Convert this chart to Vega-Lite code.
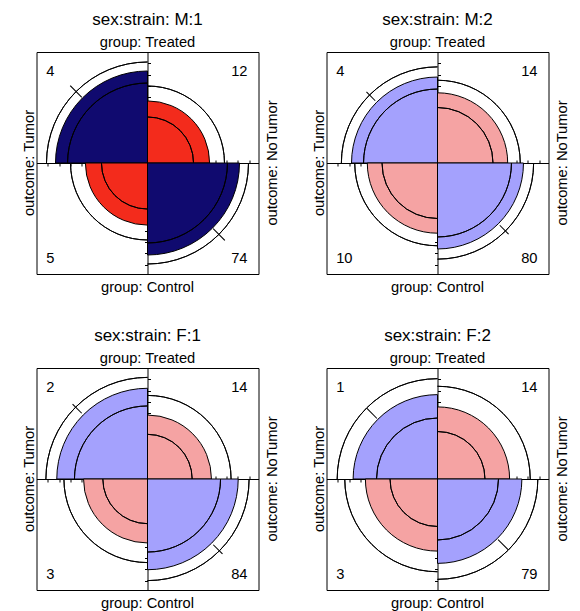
{
  "$schema": "https://vega.github.io/schema/vega-lite/v6.json",
  "background": "white",
  "padding": {"left": 20.5, "top": 10, "right": 5, "bottom": 0},
  "data": {"values": [
    {"stratum": "sex:strain: M:1", "cell": "Treated, Tumor", "group": "Treated", "outcome": "Tumor", "n": 4, "p": 0.687, "lo": 0.519, "hi": 0.828, "m1": 0.70, "m2": 0.97, "shade": "diagonal, significant"},
    {"stratum": "sex:strain: M:1", "cell": "Treated, NoTumor", "group": "Treated", "outcome": "NoTumor", "n": 12, "p": 0.313, "lo": 0.172, "hi": 0.481, "shade": "off-diagonal, significant"},
    {"stratum": "sex:strain: M:1", "cell": "Control, Tumor", "group": "Control", "outcome": "Tumor", "n": 5, "p": 0.313, "lo": 0.172, "hi": 0.481, "shade": "off-diagonal, significant"},
    {"stratum": "sex:strain: M:1", "cell": "Control, NoTumor", "group": "Control", "outcome": "NoTumor", "n": 74, "p": 0.687, "lo": 0.519, "hi": 0.828, "m1": 0.70, "m2": 0.97, "shade": "diagonal, significant"},
    {"stratum": "sex:strain: M:2", "cell": "Treated, Tumor", "group": "Treated", "outcome": "Tumor", "n": 4, "p": 0.600, "lo": 0.444, "hi": 0.750, "m1": 0.629, "m2": 0.82, "shade": "diagonal"},
    {"stratum": "sex:strain: M:2", "cell": "Treated, NoTumor", "group": "Treated", "outcome": "NoTumor", "n": 14, "p": 0.400, "lo": 0.250, "hi": 0.556, "shade": "off-diagonal"},
    {"stratum": "sex:strain: M:2", "cell": "Control, Tumor", "group": "Control", "outcome": "Tumor", "n": 10, "p": 0.400, "lo": 0.250, "hi": 0.556, "shade": "off-diagonal"},
    {"stratum": "sex:strain: M:2", "cell": "Control, NoTumor", "group": "Control", "outcome": "NoTumor", "n": 80, "p": 0.600, "lo": 0.444, "hi": 0.750, "m1": 0.629, "m2": 0.82, "shade": "diagonal"},
    {"stratum": "sex:strain: F:1", "cell": "Treated, Tumor", "group": "Treated", "outcome": "Tumor", "n": 2, "p": 0.668, "lo": 0.433, "hi": 0.838, "m1": 0.702, "m2": 0.912, "shade": "diagonal"},
    {"stratum": "sex:strain: F:1", "cell": "Treated, NoTumor", "group": "Treated", "outcome": "NoTumor", "n": 14, "p": 0.332, "lo": 0.162, "hi": 0.567, "shade": "off-diagonal"},
    {"stratum": "sex:strain: F:1", "cell": "Control, Tumor", "group": "Control", "outcome": "Tumor", "n": 3, "p": 0.332, "lo": 0.162, "hi": 0.567, "shade": "off-diagonal"},
    {"stratum": "sex:strain: F:1", "cell": "Control, NoTumor", "group": "Control", "outcome": "NoTumor", "n": 84, "p": 0.668, "lo": 0.433, "hi": 0.838, "m1": 0.702, "m2": 0.912, "shade": "diagonal"},
    {"stratum": "sex:strain: F:2", "cell": "Treated, Tumor", "group": "Treated", "outcome": "Tumor", "n": 1, "p": 0.578, "lo": 0.302, "hi": 0.817, "m1": 0.595, "m2": 0.808, "shade": "diagonal"},
    {"stratum": "sex:strain: F:2", "cell": "Treated, NoTumor", "group": "Treated", "outcome": "NoTumor", "n": 14, "p": 0.422, "lo": 0.183, "hi": 0.698, "shade": "off-diagonal"},
    {"stratum": "sex:strain: F:2", "cell": "Control, Tumor", "group": "Control", "outcome": "Tumor", "n": 3, "p": 0.422, "lo": 0.183, "hi": 0.698, "shade": "off-diagonal"},
    {"stratum": "sex:strain: F:2", "cell": "Control, NoTumor", "group": "Control", "outcome": "NoTumor", "n": 79, "p": 0.578, "lo": 0.302, "hi": 0.817, "m1": 0.595, "m2": 0.808, "shade": "diagonal"}
  ]},
  "columns": 2,
  "spacing": {"row": 94, "column": 68},
  "bounds": "flush",
  "concat": [
    {
      "width": 222, "height": 222,
      "transform": [{"filter": {"field": "stratum", "equal": "sex:strain: M:1"}}],
      "layer": [
        {"mark": {"type": "arc", "stroke": "black", "strokeWidth": 1},
         "encoding": {
           "theta": {"field": "cell", "type": "nominal", "scale": {"type": "band", "domain": ["Treated, NoTumor", "Control, NoTumor", "Control, Tumor", "Treated, Tumor"], "range": [0, 6.283185307179586], "paddingInner": 0, "paddingOuter": 0}},
           "radius": {"field": "p", "type": "quantitative", "stack": null, "scale": {"type": "sqrt", "domain": [0, 1], "range": [0, 111], "zero": true, "nice": false}},
           "color": {"field": "shade", "type": "nominal", "legend": null, "scale": {"domain": ["diagonal, significant", "off-diagonal, significant", "diagonal", "off-diagonal"], "range": ["#100A6F", "#F32B1C", "#A4A1FD", "#F5A3A3"]}}}},
        {"mark": {"type": "arc", "filled": false, "stroke": "black", "strokeWidth": 1},
         "encoding": {
           "theta": {"field": "cell", "type": "nominal", "scale": {"type": "band", "domain": ["Treated, NoTumor", "Control, NoTumor", "Control, Tumor", "Treated, Tumor"], "range": [0, 6.283185307179586], "paddingInner": 0, "paddingOuter": 0}},
           "radius": {"field": "lo", "type": "quantitative", "scale": {"type": "sqrt", "domain": [0, 1], "range": [0, 111], "zero": true, "nice": false}},
           "radius2": {"field": "lo"}}},
        {"mark": {"type": "arc", "filled": false, "stroke": "black", "strokeWidth": 1},
         "encoding": {
           "theta": {"field": "cell", "type": "nominal", "scale": {"type": "band", "domain": ["Treated, NoTumor", "Control, NoTumor", "Control, Tumor", "Treated, Tumor"], "range": [0, 6.283185307179586], "paddingInner": 0, "paddingOuter": 0}},
           "radius": {"field": "hi", "type": "quantitative", "scale": {"type": "sqrt", "domain": [0, 1], "range": [0, 111], "zero": true, "nice": false}},
           "radius2": {"field": "hi"}}},
        {"transform": [{"filter": "isValid(datum.m1)"}],
         "mark": {"type": "arc", "fill": "black", "strokeWidth": 0},
         "encoding": {
           "theta": {"field": "cell", "type": "nominal", "scale": {"type": "band", "domain": ["Treated, NoTumor", "Control, NoTumor", "Control, Tumor", "Treated, Tumor"], "range": [0, 6.283185307179586], "paddingInner": 0.993, "paddingOuter": 0.4965}},
           "radius": {"field": "m2", "type": "quantitative", "scale": {"type": "sqrt", "domain": [0, 1], "range": [0, 111], "zero": true, "nice": false}},
           "radius2": {"field": "m1"}}},
        {"transform": [{"filter": {"field": "cell", "equal": "Treated, Tumor"}}],
         "mark": {"type": "text", "fontSize": 17, "baseline": "alphabetic"},
         "encoding": {
           "x": {"datum": 0, "type": "quantitative", "axis": null, "scale": {"domain": [-1, 1], "nice": false, "zero": false}},
           "y": {"datum": 1.24, "type": "quantitative", "axis": null, "scale": {"domain": [-1, 1], "nice": false, "zero": false}},
           "text": {"field": "stratum"}}},
        {"transform": [{"filter": {"field": "cell", "equal": "Treated, Tumor"}}],
         "mark": {"type": "text", "text": "group: Treated", "baseline": "alphabetic"},
         "encoding": {
           "x": {"datum": 0, "type": "quantitative", "axis": {"orient": "bottom", "offset": -111, "domain": true, "title": null, "values": [-0.8982, -0.7964, -0.6946, -0.5928, -0.491, -0.3892, -0.2874, -0.1856, -0.0838]}},
           "y": {"datum": 1.049, "type": "quantitative", "axis": {"orient": "left", "offset": -111, "domain": true, "title": null, "values": [-0.1018, -0.2036, -0.3054, -0.4072, -0.509, -0.6108, -0.7126, -0.8144, -0.9162]}}}},
        {"transform": [{"filter": {"field": "cell", "equal": "Treated, Tumor"}}],
         "mark": {"type": "text", "text": "group: Control", "baseline": "alphabetic"},
         "encoding": {
           "x": {"datum": 0, "type": "quantitative", "axis": {"orient": "top", "offset": -111, "domain": false, "title": null, "values": [0.1018, 0.2036, 0.3054, 0.4072, 0.509, 0.6108, 0.7126, 0.8144, 0.9162]}},
           "y": {"datum": -1.162, "type": "quantitative", "axis": {"orient": "right", "offset": -111, "domain": false, "title": null, "values": [0.8982, 0.7964, 0.6946, 0.5928, 0.491, 0.3892, 0.2874, 0.1856, 0.0838]}}}},
        {"transform": [{"filter": {"field": "cell", "equal": "Treated, Tumor"}}],
         "mark": {"type": "text", "text": "outcome: Tumor", "angle": 270, "baseline": "alphabetic"},
         "encoding": {
           "x": {"datum": -1.025, "type": "quantitative", "axis": null},
           "y": {"datum": 0, "type": "quantitative", "axis": null}}},
        {"transform": [{"filter": {"field": "cell", "equal": "Treated, Tumor"}}],
         "mark": {"type": "text", "text": "outcome: NoTumor", "angle": 270, "baseline": "alphabetic"},
         "encoding": {
           "x": {"datum": 1.171, "type": "quantitative", "axis": null},
           "y": {"datum": 0, "type": "quantitative", "axis": null}}},
        {"transform": [{"filter": {"field": "cell", "equal": "Treated, Tumor"}}],
         "mark": {"type": "text", "align": "left", "baseline": "alphabetic"},
         "encoding": {"x": {"datum": -0.913, "type": "quantitative", "axis": null}, "y": {"datum": 0.784, "type": "quantitative", "axis": null}, "text": {"field": "n"}}},
        {"transform": [{"filter": {"field": "cell", "equal": "Treated, NoTumor"}}],
         "mark": {"type": "text", "align": "right", "baseline": "alphabetic"},
         "encoding": {"x": {"datum": 0.901, "type": "quantitative", "axis": null}, "y": {"datum": 0.784, "type": "quantitative", "axis": null}, "text": {"field": "n"}}},
        {"transform": [{"filter": {"field": "cell", "equal": "Control, Tumor"}}],
         "mark": {"type": "text", "align": "left", "baseline": "alphabetic"},
         "encoding": {"x": {"datum": -0.913, "type": "quantitative", "axis": null}, "y": {"datum": -0.901, "type": "quantitative", "axis": null}, "text": {"field": "n"}}},
        {"transform": [{"filter": {"field": "cell", "equal": "Control, NoTumor"}}],
         "mark": {"type": "text", "align": "right", "baseline": "alphabetic"},
         "encoding": {"x": {"datum": 0.901, "type": "quantitative", "axis": null}, "y": {"datum": -0.901, "type": "quantitative", "axis": null}, "text": {"field": "n"}}}
      ],
      "resolve": {"scale": {"theta": "independent"}, "axis": {"x": "independent", "y": "independent"}}
    },
    {
      "width": 222, "height": 222,
      "transform": [{"filter": {"field": "stratum", "equal": "sex:strain: M:2"}}],
      "layer": [
        {"mark": {"type": "arc", "stroke": "black", "strokeWidth": 1},
         "encoding": {
           "theta": {"field": "cell", "type": "nominal", "scale": {"type": "band", "domain": ["Treated, NoTumor", "Control, NoTumor", "Control, Tumor", "Treated, Tumor"], "range": [0, 6.283185307179586], "paddingInner": 0, "paddingOuter": 0}},
           "radius": {"field": "p", "type": "quantitative", "stack": null, "scale": {"type": "sqrt", "domain": [0, 1], "range": [0, 111], "zero": true, "nice": false}},
           "color": {"field": "shade", "type": "nominal", "legend": null, "scale": {"domain": ["diagonal, significant", "off-diagonal, significant", "diagonal", "off-diagonal"], "range": ["#100A6F", "#F32B1C", "#A4A1FD", "#F5A3A3"]}}}},
        {"mark": {"type": "arc", "filled": false, "stroke": "black", "strokeWidth": 1},
         "encoding": {
           "theta": {"field": "cell", "type": "nominal", "scale": {"type": "band", "domain": ["Treated, NoTumor", "Control, NoTumor", "Control, Tumor", "Treated, Tumor"], "range": [0, 6.283185307179586], "paddingInner": 0, "paddingOuter": 0}},
           "radius": {"field": "lo", "type": "quantitative", "scale": {"type": "sqrt", "domain": [0, 1], "range": [0, 111], "zero": true, "nice": false}},
           "radius2": {"field": "lo"}}},
        {"mark": {"type": "arc", "filled": false, "stroke": "black", "strokeWidth": 1},
         "encoding": {
           "theta": {"field": "cell", "type": "nominal", "scale": {"type": "band", "domain": ["Treated, NoTumor", "Control, NoTumor", "Control, Tumor", "Treated, Tumor"], "range": [0, 6.283185307179586], "paddingInner": 0, "paddingOuter": 0}},
           "radius": {"field": "hi", "type": "quantitative", "scale": {"type": "sqrt", "domain": [0, 1], "range": [0, 111], "zero": true, "nice": false}},
           "radius2": {"field": "hi"}}},
        {"transform": [{"filter": "isValid(datum.m1)"}],
         "mark": {"type": "arc", "fill": "black", "strokeWidth": 0},
         "encoding": {
           "theta": {"field": "cell", "type": "nominal", "scale": {"type": "band", "domain": ["Treated, NoTumor", "Control, NoTumor", "Control, Tumor", "Treated, Tumor"], "range": [0, 6.283185307179586], "paddingInner": 0.993, "paddingOuter": 0.4965}},
           "radius": {"field": "m2", "type": "quantitative", "scale": {"type": "sqrt", "domain": [0, 1], "range": [0, 111], "zero": true, "nice": false}},
           "radius2": {"field": "m1"}}},
        {"transform": [{"filter": {"field": "cell", "equal": "Treated, Tumor"}}],
         "mark": {"type": "text", "fontSize": 17, "baseline": "alphabetic"},
         "encoding": {
           "x": {"datum": 0, "type": "quantitative", "axis": null, "scale": {"domain": [-1, 1], "nice": false, "zero": false}},
           "y": {"datum": 1.24, "type": "quantitative", "axis": null, "scale": {"domain": [-1, 1], "nice": false, "zero": false}},
           "text": {"field": "stratum"}}},
        {"transform": [{"filter": {"field": "cell", "equal": "Treated, Tumor"}}],
         "mark": {"type": "text", "text": "group: Treated", "baseline": "alphabetic"},
         "encoding": {
           "x": {"datum": 0, "type": "quantitative", "axis": {"orient": "bottom", "offset": -111, "domain": true, "title": null, "values": [-0.8982, -0.7964, -0.6946, -0.5928, -0.491, -0.3892, -0.2874, -0.1856, -0.0838]}},
           "y": {"datum": 1.049, "type": "quantitative", "axis": {"orient": "left", "offset": -111, "domain": true, "title": null, "values": [-0.1018, -0.2036, -0.3054, -0.4072, -0.509, -0.6108, -0.7126, -0.8144, -0.9162]}}}},
        {"transform": [{"filter": {"field": "cell", "equal": "Treated, Tumor"}}],
         "mark": {"type": "text", "text": "group: Control", "baseline": "alphabetic"},
         "encoding": {
           "x": {"datum": 0, "type": "quantitative", "axis": {"orient": "top", "offset": -111, "domain": false, "title": null, "values": [0.1018, 0.2036, 0.3054, 0.4072, 0.509, 0.6108, 0.7126, 0.8144, 0.9162]}},
           "y": {"datum": -1.162, "type": "quantitative", "axis": {"orient": "right", "offset": -111, "domain": false, "title": null, "values": [0.8982, 0.7964, 0.6946, 0.5928, 0.491, 0.3892, 0.2874, 0.1856, 0.0838]}}}},
        {"transform": [{"filter": {"field": "cell", "equal": "Treated, Tumor"}}],
         "mark": {"type": "text", "text": "outcome: Tumor", "angle": 270, "baseline": "alphabetic"},
         "encoding": {
           "x": {"datum": -1.025, "type": "quantitative", "axis": null},
           "y": {"datum": 0, "type": "quantitative", "axis": null}}},
        {"transform": [{"filter": {"field": "cell", "equal": "Treated, Tumor"}}],
         "mark": {"type": "text", "text": "outcome: NoTumor", "angle": 270, "baseline": "alphabetic"},
         "encoding": {
           "x": {"datum": 1.171, "type": "quantitative", "axis": null},
           "y": {"datum": 0, "type": "quantitative", "axis": null}}},
        {"transform": [{"filter": {"field": "cell", "equal": "Treated, Tumor"}}],
         "mark": {"type": "text", "align": "left", "baseline": "alphabetic"},
         "encoding": {"x": {"datum": -0.913, "type": "quantitative", "axis": null}, "y": {"datum": 0.784, "type": "quantitative", "axis": null}, "text": {"field": "n"}}},
        {"transform": [{"filter": {"field": "cell", "equal": "Treated, NoTumor"}}],
         "mark": {"type": "text", "align": "right", "baseline": "alphabetic"},
         "encoding": {"x": {"datum": 0.901, "type": "quantitative", "axis": null}, "y": {"datum": 0.784, "type": "quantitative", "axis": null}, "text": {"field": "n"}}},
        {"transform": [{"filter": {"field": "cell", "equal": "Control, Tumor"}}],
         "mark": {"type": "text", "align": "left", "baseline": "alphabetic"},
         "encoding": {"x": {"datum": -0.913, "type": "quantitative", "axis": null}, "y": {"datum": -0.901, "type": "quantitative", "axis": null}, "text": {"field": "n"}}},
        {"transform": [{"filter": {"field": "cell", "equal": "Control, NoTumor"}}],
         "mark": {"type": "text", "align": "right", "baseline": "alphabetic"},
         "encoding": {"x": {"datum": 0.901, "type": "quantitative", "axis": null}, "y": {"datum": -0.901, "type": "quantitative", "axis": null}, "text": {"field": "n"}}}
      ],
      "resolve": {"scale": {"theta": "independent"}, "axis": {"x": "independent", "y": "independent"}}
    },
    {
      "width": 222, "height": 222,
      "transform": [{"filter": {"field": "stratum", "equal": "sex:strain: F:1"}}],
      "layer": [
        {"mark": {"type": "arc", "stroke": "black", "strokeWidth": 1},
         "encoding": {
           "theta": {"field": "cell", "type": "nominal", "scale": {"type": "band", "domain": ["Treated, NoTumor", "Control, NoTumor", "Control, Tumor", "Treated, Tumor"], "range": [0, 6.283185307179586], "paddingInner": 0, "paddingOuter": 0}},
           "radius": {"field": "p", "type": "quantitative", "stack": null, "scale": {"type": "sqrt", "domain": [0, 1], "range": [0, 111], "zero": true, "nice": false}},
           "color": {"field": "shade", "type": "nominal", "legend": null, "scale": {"domain": ["diagonal, significant", "off-diagonal, significant", "diagonal", "off-diagonal"], "range": ["#100A6F", "#F32B1C", "#A4A1FD", "#F5A3A3"]}}}},
        {"mark": {"type": "arc", "filled": false, "stroke": "black", "strokeWidth": 1},
         "encoding": {
           "theta": {"field": "cell", "type": "nominal", "scale": {"type": "band", "domain": ["Treated, NoTumor", "Control, NoTumor", "Control, Tumor", "Treated, Tumor"], "range": [0, 6.283185307179586], "paddingInner": 0, "paddingOuter": 0}},
           "radius": {"field": "lo", "type": "quantitative", "scale": {"type": "sqrt", "domain": [0, 1], "range": [0, 111], "zero": true, "nice": false}},
           "radius2": {"field": "lo"}}},
        {"mark": {"type": "arc", "filled": false, "stroke": "black", "strokeWidth": 1},
         "encoding": {
           "theta": {"field": "cell", "type": "nominal", "scale": {"type": "band", "domain": ["Treated, NoTumor", "Control, NoTumor", "Control, Tumor", "Treated, Tumor"], "range": [0, 6.283185307179586], "paddingInner": 0, "paddingOuter": 0}},
           "radius": {"field": "hi", "type": "quantitative", "scale": {"type": "sqrt", "domain": [0, 1], "range": [0, 111], "zero": true, "nice": false}},
           "radius2": {"field": "hi"}}},
        {"transform": [{"filter": "isValid(datum.m1)"}],
         "mark": {"type": "arc", "fill": "black", "strokeWidth": 0},
         "encoding": {
           "theta": {"field": "cell", "type": "nominal", "scale": {"type": "band", "domain": ["Treated, NoTumor", "Control, NoTumor", "Control, Tumor", "Treated, Tumor"], "range": [0, 6.283185307179586], "paddingInner": 0.993, "paddingOuter": 0.4965}},
           "radius": {"field": "m2", "type": "quantitative", "scale": {"type": "sqrt", "domain": [0, 1], "range": [0, 111], "zero": true, "nice": false}},
           "radius2": {"field": "m1"}}},
        {"transform": [{"filter": {"field": "cell", "equal": "Treated, Tumor"}}],
         "mark": {"type": "text", "fontSize": 17, "baseline": "alphabetic"},
         "encoding": {
           "x": {"datum": 0, "type": "quantitative", "axis": null, "scale": {"domain": [-1, 1], "nice": false, "zero": false}},
           "y": {"datum": 1.24, "type": "quantitative", "axis": null, "scale": {"domain": [-1, 1], "nice": false, "zero": false}},
           "text": {"field": "stratum"}}},
        {"transform": [{"filter": {"field": "cell", "equal": "Treated, Tumor"}}],
         "mark": {"type": "text", "text": "group: Treated", "baseline": "alphabetic"},
         "encoding": {
           "x": {"datum": 0, "type": "quantitative", "axis": {"orient": "bottom", "offset": -111, "domain": true, "title": null, "values": [-0.8982, -0.7964, -0.6946, -0.5928, -0.491, -0.3892, -0.2874, -0.1856, -0.0838]}},
           "y": {"datum": 1.049, "type": "quantitative", "axis": {"orient": "left", "offset": -111, "domain": true, "title": null, "values": [-0.1018, -0.2036, -0.3054, -0.4072, -0.509, -0.6108, -0.7126, -0.8144, -0.9162]}}}},
        {"transform": [{"filter": {"field": "cell", "equal": "Treated, Tumor"}}],
         "mark": {"type": "text", "text": "group: Control", "baseline": "alphabetic"},
         "encoding": {
           "x": {"datum": 0, "type": "quantitative", "axis": {"orient": "top", "offset": -111, "domain": false, "title": null, "values": [0.1018, 0.2036, 0.3054, 0.4072, 0.509, 0.6108, 0.7126, 0.8144, 0.9162]}},
           "y": {"datum": -1.162, "type": "quantitative", "axis": {"orient": "right", "offset": -111, "domain": false, "title": null, "values": [0.8982, 0.7964, 0.6946, 0.5928, 0.491, 0.3892, 0.2874, 0.1856, 0.0838]}}}},
        {"transform": [{"filter": {"field": "cell", "equal": "Treated, Tumor"}}],
         "mark": {"type": "text", "text": "outcome: Tumor", "angle": 270, "baseline": "alphabetic"},
         "encoding": {
           "x": {"datum": -1.025, "type": "quantitative", "axis": null},
           "y": {"datum": 0, "type": "quantitative", "axis": null}}},
        {"transform": [{"filter": {"field": "cell", "equal": "Treated, Tumor"}}],
         "mark": {"type": "text", "text": "outcome: NoTumor", "angle": 270, "baseline": "alphabetic"},
         "encoding": {
           "x": {"datum": 1.171, "type": "quantitative", "axis": null},
           "y": {"datum": 0, "type": "quantitative", "axis": null}}},
        {"transform": [{"filter": {"field": "cell", "equal": "Treated, Tumor"}}],
         "mark": {"type": "text", "align": "left", "baseline": "alphabetic"},
         "encoding": {"x": {"datum": -0.913, "type": "quantitative", "axis": null}, "y": {"datum": 0.784, "type": "quantitative", "axis": null}, "text": {"field": "n"}}},
        {"transform": [{"filter": {"field": "cell", "equal": "Treated, NoTumor"}}],
         "mark": {"type": "text", "align": "right", "baseline": "alphabetic"},
         "encoding": {"x": {"datum": 0.901, "type": "quantitative", "axis": null}, "y": {"datum": 0.784, "type": "quantitative", "axis": null}, "text": {"field": "n"}}},
        {"transform": [{"filter": {"field": "cell", "equal": "Control, Tumor"}}],
         "mark": {"type": "text", "align": "left", "baseline": "alphabetic"},
         "encoding": {"x": {"datum": -0.913, "type": "quantitative", "axis": null}, "y": {"datum": -0.901, "type": "quantitative", "axis": null}, "text": {"field": "n"}}},
        {"transform": [{"filter": {"field": "cell", "equal": "Control, NoTumor"}}],
         "mark": {"type": "text", "align": "right", "baseline": "alphabetic"},
         "encoding": {"x": {"datum": 0.901, "type": "quantitative", "axis": null}, "y": {"datum": -0.901, "type": "quantitative", "axis": null}, "text": {"field": "n"}}}
      ],
      "resolve": {"scale": {"theta": "independent"}, "axis": {"x": "independent", "y": "independent"}}
    },
    {
      "width": 222, "height": 222,
      "transform": [{"filter": {"field": "stratum", "equal": "sex:strain: F:2"}}],
      "layer": [
        {"mark": {"type": "arc", "stroke": "black", "strokeWidth": 1},
         "encoding": {
           "theta": {"field": "cell", "type": "nominal", "scale": {"type": "band", "domain": ["Treated, NoTumor", "Control, NoTumor", "Control, Tumor", "Treated, Tumor"], "range": [0, 6.283185307179586], "paddingInner": 0, "paddingOuter": 0}},
           "radius": {"field": "p", "type": "quantitative", "stack": null, "scale": {"type": "sqrt", "domain": [0, 1], "range": [0, 111], "zero": true, "nice": false}},
           "color": {"field": "shade", "type": "nominal", "legend": null, "scale": {"domain": ["diagonal, significant", "off-diagonal, significant", "diagonal", "off-diagonal"], "range": ["#100A6F", "#F32B1C", "#A4A1FD", "#F5A3A3"]}}}},
        {"mark": {"type": "arc", "filled": false, "stroke": "black", "strokeWidth": 1},
         "encoding": {
           "theta": {"field": "cell", "type": "nominal", "scale": {"type": "band", "domain": ["Treated, NoTumor", "Control, NoTumor", "Control, Tumor", "Treated, Tumor"], "range": [0, 6.283185307179586], "paddingInner": 0, "paddingOuter": 0}},
           "radius": {"field": "lo", "type": "quantitative", "scale": {"type": "sqrt", "domain": [0, 1], "range": [0, 111], "zero": true, "nice": false}},
           "radius2": {"field": "lo"}}},
        {"mark": {"type": "arc", "filled": false, "stroke": "black", "strokeWidth": 1},
         "encoding": {
           "theta": {"field": "cell", "type": "nominal", "scale": {"type": "band", "domain": ["Treated, NoTumor", "Control, NoTumor", "Control, Tumor", "Treated, Tumor"], "range": [0, 6.283185307179586], "paddingInner": 0, "paddingOuter": 0}},
           "radius": {"field": "hi", "type": "quantitative", "scale": {"type": "sqrt", "domain": [0, 1], "range": [0, 111], "zero": true, "nice": false}},
           "radius2": {"field": "hi"}}},
        {"transform": [{"filter": "isValid(datum.m1)"}],
         "mark": {"type": "arc", "fill": "black", "strokeWidth": 0},
         "encoding": {
           "theta": {"field": "cell", "type": "nominal", "scale": {"type": "band", "domain": ["Treated, NoTumor", "Control, NoTumor", "Control, Tumor", "Treated, Tumor"], "range": [0, 6.283185307179586], "paddingInner": 0.993, "paddingOuter": 0.4965}},
           "radius": {"field": "m2", "type": "quantitative", "scale": {"type": "sqrt", "domain": [0, 1], "range": [0, 111], "zero": true, "nice": false}},
           "radius2": {"field": "m1"}}},
        {"transform": [{"filter": {"field": "cell", "equal": "Treated, Tumor"}}],
         "mark": {"type": "text", "fontSize": 17, "baseline": "alphabetic"},
         "encoding": {
           "x": {"datum": 0, "type": "quantitative", "axis": null, "scale": {"domain": [-1, 1], "nice": false, "zero": false}},
           "y": {"datum": 1.24, "type": "quantitative", "axis": null, "scale": {"domain": [-1, 1], "nice": false, "zero": false}},
           "text": {"field": "stratum"}}},
        {"transform": [{"filter": {"field": "cell", "equal": "Treated, Tumor"}}],
         "mark": {"type": "text", "text": "group: Treated", "baseline": "alphabetic"},
         "encoding": {
           "x": {"datum": 0, "type": "quantitative", "axis": {"orient": "bottom", "offset": -111, "domain": true, "title": null, "values": [-0.8982, -0.7964, -0.6946, -0.5928, -0.491, -0.3892, -0.2874, -0.1856, -0.0838]}},
           "y": {"datum": 1.049, "type": "quantitative", "axis": {"orient": "left", "offset": -111, "domain": true, "title": null, "values": [-0.1018, -0.2036, -0.3054, -0.4072, -0.509, -0.6108, -0.7126, -0.8144, -0.9162]}}}},
        {"transform": [{"filter": {"field": "cell", "equal": "Treated, Tumor"}}],
         "mark": {"type": "text", "text": "group: Control", "baseline": "alphabetic"},
         "encoding": {
           "x": {"datum": 0, "type": "quantitative", "axis": {"orient": "top", "offset": -111, "domain": false, "title": null, "values": [0.1018, 0.2036, 0.3054, 0.4072, 0.509, 0.6108, 0.7126, 0.8144, 0.9162]}},
           "y": {"datum": -1.162, "type": "quantitative", "axis": {"orient": "right", "offset": -111, "domain": false, "title": null, "values": [0.8982, 0.7964, 0.6946, 0.5928, 0.491, 0.3892, 0.2874, 0.1856, 0.0838]}}}},
        {"transform": [{"filter": {"field": "cell", "equal": "Treated, Tumor"}}],
         "mark": {"type": "text", "text": "outcome: Tumor", "angle": 270, "baseline": "alphabetic"},
         "encoding": {
           "x": {"datum": -1.025, "type": "quantitative", "axis": null},
           "y": {"datum": 0, "type": "quantitative", "axis": null}}},
        {"transform": [{"filter": {"field": "cell", "equal": "Treated, Tumor"}}],
         "mark": {"type": "text", "text": "outcome: NoTumor", "angle": 270, "baseline": "alphabetic"},
         "encoding": {
           "x": {"datum": 1.171, "type": "quantitative", "axis": null},
           "y": {"datum": 0, "type": "quantitative", "axis": null}}},
        {"transform": [{"filter": {"field": "cell", "equal": "Treated, Tumor"}}],
         "mark": {"type": "text", "align": "left", "baseline": "alphabetic"},
         "encoding": {"x": {"datum": -0.913, "type": "quantitative", "axis": null}, "y": {"datum": 0.784, "type": "quantitative", "axis": null}, "text": {"field": "n"}}},
        {"transform": [{"filter": {"field": "cell", "equal": "Treated, NoTumor"}}],
         "mark": {"type": "text", "align": "right", "baseline": "alphabetic"},
         "encoding": {"x": {"datum": 0.901, "type": "quantitative", "axis": null}, "y": {"datum": 0.784, "type": "quantitative", "axis": null}, "text": {"field": "n"}}},
        {"transform": [{"filter": {"field": "cell", "equal": "Control, Tumor"}}],
         "mark": {"type": "text", "align": "left", "baseline": "alphabetic"},
         "encoding": {"x": {"datum": -0.913, "type": "quantitative", "axis": null}, "y": {"datum": -0.901, "type": "quantitative", "axis": null}, "text": {"field": "n"}}},
        {"transform": [{"filter": {"field": "cell", "equal": "Control, NoTumor"}}],
         "mark": {"type": "text", "align": "right", "baseline": "alphabetic"},
         "encoding": {"x": {"datum": 0.901, "type": "quantitative", "axis": null}, "y": {"datum": -0.901, "type": "quantitative", "axis": null}, "text": {"field": "n"}}}
      ],
      "resolve": {"scale": {"theta": "independent"}, "axis": {"x": "independent", "y": "independent"}}
    }
  ],
  "config": {
    "font": "Liberation Sans",
    "view": {"stroke": "black", "strokeWidth": 1},
    "text": {"font": "Liberation Sans", "fontSize": 14.7, "color": "black"},
    "axis": {"labels": false, "grid": false, "ticks": true, "tickSize": 3, "tickWidth": 1, "tickColor": "black", "domainColor": "black", "domainWidth": 1, "zindex": 1}
  }
}
